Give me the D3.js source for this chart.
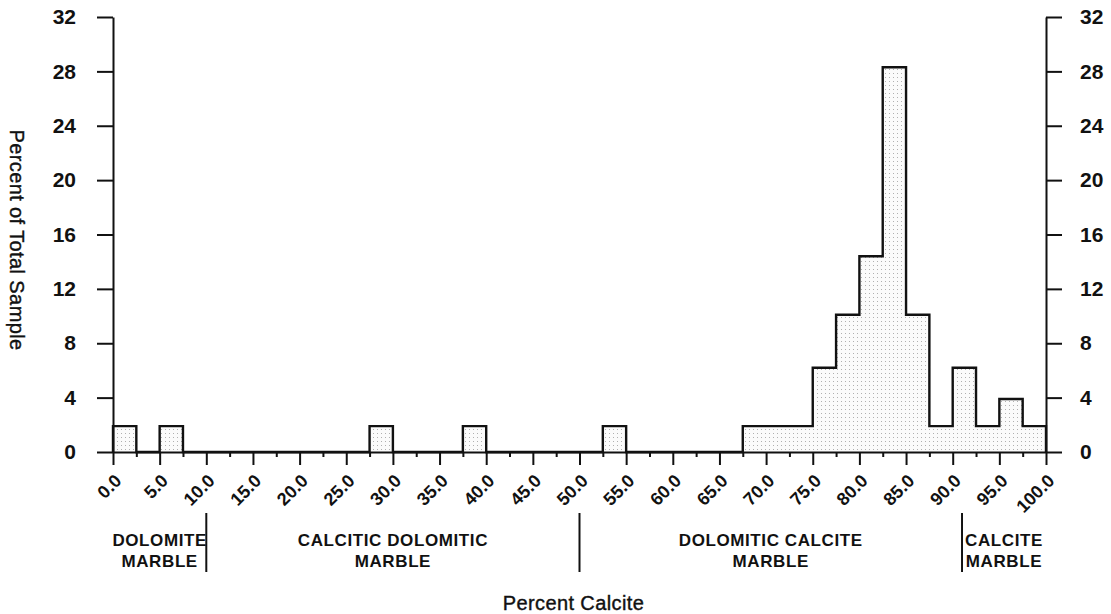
<!DOCTYPE html>
<html>
<head>
<meta charset="utf-8">
<script src="https://cdn.jsdelivr.net/npm/d3@7"></script>
<style>
  html, body { margin: 0; padding: 0; background: #fff; }
  svg { display: block; }
  text { font-family: "Liberation Sans", Arial, Helvetica, sans-serif; fill: #111; }
</style>
</head>
<body>
<svg id="chart" width="1111" height="614"></svg>
<script>
// Histogram bins: lower edge of each 2.5 % calcite class
const binStarts = d3.range(0, 100, 2.5);
// Percent of total sample in each bin
const binPercents = [
  1.9, 0, 1.9, 0, 0, 0, 0, 0, 0, 0,
  0, 1.9, 0, 0, 0, 1.9, 0, 0, 0, 0,
  0, 1.9, 0, 0, 0, 0, 0, 1.9, 1.9, 1.9,
  6.2, 10.1, 14.4, 28.3, 10.1, 1.9, 6.2, 1.9, 3.9, 1.9
];
// Axis ticks
const yTicks = [0, 4, 8, 12, 16, 20, 24, 28, 32];
const xMajorTicks = d3.range(0, 100.01, 5);
const xMinorTicks = d3.range(2.5, 100, 5);
// Rock classification along the calcite axis
const classBounds = [0, 10, 50, 91, 100];
const classNames = [
  ["DOLOMITE", "MARBLE"],
  ["CALCITIC DOLOMITIC", "MARBLE"],
  ["DOLOMITIC CALCITE", "MARBLE"],
  ["CALCITE", "MARBLE"]
];

const svg = d3.select("#chart");
const plot = { left: 113, right: 1046, top: 17, bottom: 452 };

const x = d3.scaleLinear().domain([0, 100]).range([plot.left, plot.right]);
const y = d3.scaleLinear().domain([0, 32]).range([plot.bottom, plot.top]);

// Stipple fill for the histogram
const defs = svg.append("defs");
const pat = defs.append("pattern")
  .attr("id", "stipple").attr("patternUnits", "userSpaceOnUse")
  .attr("width", 4).attr("height", 4);
pat.append("rect").attr("width", 4).attr("height", 4).attr("fill", "#fbfbfb");
pat.append("rect").attr("x", 1).attr("y", 1).attr("width", 1).attr("height", 1).attr("fill", "#b0b0b0");

// Step points: value changes to binPercents[i] at binStarts[i]
const steps = [{ x: 0, v: 0 }]
  .concat(binStarts.map((s, i) => ({ x: s, v: binPercents[i] })))
  .concat([{ x: 100, v: binPercents[binPercents.length - 1] }, { x: 100, v: 0 }]);

const area = d3.area()
  .curve(d3.curveStepAfter)
  .x(d => x(d.x)).y0(y(0)).y1(d => y(d.v));
const line = d3.line()
  .curve(d3.curveStepAfter)
  .x(d => x(d.x)).y(d => y(d.v));

svg.append("path").attr("d", area(steps)).attr("fill", "url(#stipple)");
svg.append("path").attr("d", line(steps))
  .attr("fill", "none").attr("stroke", "#111").attr("stroke-width", 2.4)
  .attr("stroke-linejoin", "miter");

// Left and right percentage axes
function styleAxis(g) {
  g.select(".domain").attr("stroke", "#111").attr("stroke-width", 2);
  g.selectAll(".tick line").attr("stroke", "#111").attr("stroke-width", 2);
  g.selectAll(".tick text")
    .style("font-size", "21px").style("font-weight", "bold");
}

svg.append("g")
  .attr("transform", `translate(${plot.left},0)`)
  .call(d3.axisLeft(y).tickValues(yTicks).tickSize(16).tickSizeOuter(0).tickPadding(21))
  .call(styleAxis);

svg.append("g")
  .attr("transform", `translate(${plot.right},0)`)
  .call(d3.axisRight(y).tickValues(yTicks).tickSize(16).tickSizeOuter(0).tickPadding(18))
  .call(styleAxis);

// Calcite axis: minor ticks, then major ticks with slanted labels
svg.append("g")
  .attr("transform", `translate(0,${plot.bottom})`)
  .call(d3.axisBottom(x).tickValues(xMinorTicks).tickSize(5).tickSizeOuter(0).tickFormat(""))
  .call(g => {
    g.select(".domain").remove();
    g.selectAll(".tick line").attr("stroke", "#111").attr("stroke-width", 2);
  });

const xAxis = svg.append("g")
  .attr("transform", `translate(0,${plot.bottom})`)
  .call(d3.axisBottom(x).tickValues(xMajorTicks).tickSize(13).tickSizeOuter(0)
    .tickFormat(d3.format(".1f")))
  .call(g => {
    g.select(".domain").attr("stroke", "#111").attr("stroke-width", 2);
    g.selectAll(".tick line").attr("stroke", "#111").attr("stroke-width", 2);
  });
xAxis.selectAll(".tick text")
  .attr("x", null).attr("y", null).attr("dy", null)
  .attr("text-anchor", "end")
  .attr("transform", "translate(9,30) rotate(-45)")
  .style("font-size", "18px").style("font-weight", "bold");

// Axis titles
svg.append("text")
  .attr("transform", "translate(10,240) rotate(90)")
  .attr("text-anchor", "middle")
  .style("font-size", "20px").style("letter-spacing", "0.4px")
  .style("stroke", "#111").style("stroke-width", "0.4px")
  .text("Percent of Total Sample");

svg.append("text")
  .attr("x", x(50) - 6).attr("y", 610)
  .attr("text-anchor", "middle")
  .style("font-size", "20px").style("letter-spacing", "0.4px")
  .style("stroke", "#111").style("stroke-width", "0.4px")
  .text("Percent Calcite");

// Classification dividers and names
svg.selectAll("line.divider")
  .data(classBounds.slice(1, -1))
  .join("line")
  .attr("class", "divider")
  .attr("x1", d => x(d)).attr("x2", d => x(d))
  .attr("y1", 513).attr("y2", 572)
  .attr("stroke", "#111").attr("stroke-width", 2);

const cls = svg.selectAll("text.cls")
  .data(classNames)
  .join("text")
  .attr("class", "cls")
  .attr("text-anchor", "middle")
  .style("font-size", "17px").style("font-weight", "bold").style("letter-spacing", "0.6px");
cls.selectAll("tspan")
  .data((d, i) => d.map(t => ({ t, mid: (classBounds[i] + classBounds[i + 1]) / 2 })))
  .join("tspan")
  .attr("x", d => x(d.mid))
  .attr("y", (d, j) => 546 + j * 21)
  .text(d => d.t);
</script>
</body>
</html>
